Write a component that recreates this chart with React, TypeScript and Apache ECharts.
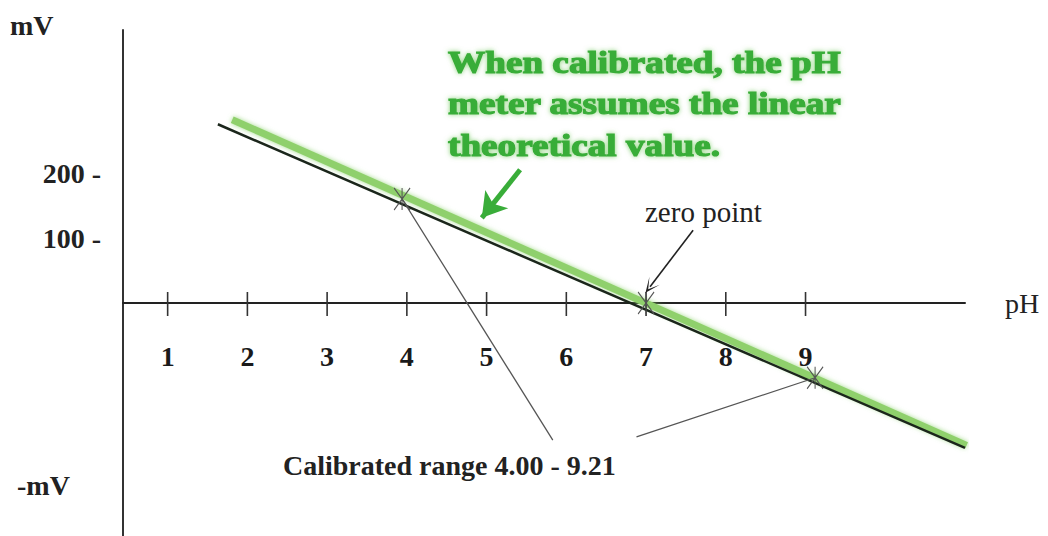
import React, { useEffect, useRef } from "react";
import * as echarts from "echarts";

// ---- data ----
const phTicks = [1, 2, 3, 4, 5, 6, 7, 8, 9];
const mvTicks = [100, 200];
const phRange = [0.44, 11.0];
const mvRange = [-360, 420];
// measured (dark) response line: [pH, mV]
const measuredLine = [
  [1.63, 275],
  [11.0, -223],
];
// theoretical (green) line: [pH, mV]
const theoreticalLine = [
  [1.81, 282],
  [11.02, -219],
];
// calibration points (pH 4, zero point 7, pH 9)
const calibrationPoints = [
  [3.94, 160],
  [7.0, 0],
  [9.12, -115],
];
// leader lines from calibration points to the caption
const leaderEnds = [
  [5.83, -211],
  [6.88, -206],
];
// arrows: [from, to]
const greenArrow = [
  [5.42, 205],
  [4.94, 131],
];
const zeroArrow = [
  [7.59, 112],
  [7.05, 25],
];
const noteLines = [
  "When calibrated, the pH",
  "meter assumes the linear",
  "theoretical value.",
];

const SERIF = "'Liberation Serif', 'Times New Roman', serif";
const GREEN = "#39ad39";

export default function App() {
  const ref = useRef<HTMLDivElement>(null);
  useEffect(() => {
    document.body.style.margin = "0";
    const chart = echarts.init(ref.current!, null, { renderer: "svg" });

    const option: any = {
      animation: false,
      backgroundColor: "#ffffff",
      grid: {
        left: 123,
        top: 30,
        width: 842,
        height: 507,
        containLabel: false,
        outerBoundsMode: "none",
      },
      xAxis: {
        type: "value",
        min: phRange[0],
        max: phRange[1],
        position: "bottom",
        splitLine: { show: false },
        axisLine: { show: true, onZero: true, lineStyle: { color: "#222", width: 2 } },
        axisTick: { show: false },
        axisLabel: { show: false },
        name: "pH",
        nameLocation: "end",
        nameGap: 40,
        nameTextStyle: { fontFamily: SERIF, fontSize: 28, color: "#222" },
      },
      yAxis: {
        type: "value",
        min: mvRange[0],
        max: mvRange[1],
        position: "left",
        splitLine: { show: false },
        axisLine: { show: true, onZero: false, lineStyle: { color: "#333", width: 2 } },
        axisTick: { show: false },
        axisLabel: {
          show: true,
          customValues: mvTicks,
          margin: 22,
          formatter: (v: number) => `${v} -`,
          fontFamily: SERIF,
          fontWeight: "bold",
          fontSize: 28,
          color: "#222",
        },
      },
      series: [
        {
          name: "ticks",
          type: "scatter",
          data: phTicks.map((v) => [v, 0]),
          symbol: "rect",
          symbolSize: [1.6, 24],
          symbolOffset: [0, 1],
          z: 2,
          silent: true,
          itemStyle: { color: "#333", opacity: 1 },
          label: {
            show: true,
            position: "bottom",
            distance: 26,
            formatter: (p: any) => String(p.value[0]),
            fontFamily: SERIF,
            fontWeight: "bold",
            fontSize: 28,
            color: "#1a1a1a",
            opacity: 1,
          },
        },
        {
          name: "theoretical",
          type: "line",
          data: theoreticalLine,
          showSymbol: false,
          symbol: "none",
          z: 1,
          lineStyle: {
            color: "#8fd06c",
            width: 7,
            shadowBlur: 5,
            shadowColor: "rgba(140,210,110,0.8)",
          },
          markLine: {
            silent: true,
            symbol: ["none", "arrow"],
            symbolSize: [22, 24],
            label: { show: false },
            lineStyle: { color: GREEN, width: 5, type: "solid" },
            data: [[{ coord: greenArrow[0] }, { coord: greenArrow[1] }]],
          },
        },
        {
          name: "measured",
          type: "line",
          data: measuredLine,
          showSymbol: false,
          symbol: "none",
          z: 3,
          lineStyle: { color: "#1b261b", width: 2.5 },
          markLine: {
            silent: true,
            symbol: ["none", "path://M5,0 L10,10 L5,3 L0,10 Z"],
            symbolSize: [13, 15],
            label: { show: false },
            lineStyle: { color: "#222", width: 1.6, type: "solid" },
            data: [[{ coord: zeroArrow[0] }, { coord: zeroArrow[1] }]],
          },
        },
        {
          name: "calibration",
          type: "scatter",
          data: calibrationPoints,
          symbol: "path://M0,0L10,14M10,0L0,14M5,0L5,14",
          symbolSize: [16, 22],
          z: 4,
          itemStyle: { color: "none", borderColor: "#555", borderWidth: 1.2, opacity: 1 },
          markLine: {
            silent: true,
            symbol: ["none", "none"],
            label: { show: false },
            lineStyle: { color: "#555", width: 1.3, type: "solid" },
            data: [
              [{ coord: calibrationPoints[0] }, { coord: leaderEnds[0] }],
              [{ coord: calibrationPoints[2] }, { coord: leaderEnds[1] }],
            ],
          },
        },
      ],
      graphic: [
        ...noteLines.map((t, i) => ({
          type: "text",
          x: 448,
          y: 62 + i * 41.5,
          scaleX: 1.2,
          style: {
            text: t,
            fontFamily: SERIF,
            fontWeight: "bold",
            fontSize: 31,
            fill: GREEN,
            stroke: GREEN,
            lineWidth: 1.2,
            textAlign: "left",
            textVerticalAlign: "middle",
            textShadowBlur: 5,
            textShadowColor: "rgba(110,200,90,0.8)",
          },
        })),
        {
          type: "text",
          x: 645,
          y: 212,
          style: {
            text: "zero point",
            fontFamily: SERIF,
            fontSize: 29,
            fill: "#222",
            textAlign: "left",
            textVerticalAlign: "middle",
          },
        },
        {
          type: "text",
          x: 283,
          y: 465,
          style: {
            text: "Calibrated range 4.00 - 9.21",
            fontFamily: SERIF,
            fontWeight: "bold",
            fontSize: 28,
            fill: "#222",
            textAlign: "left",
            textVerticalAlign: "middle",
          },
        },
        {
          type: "text",
          x: 10,
          y: 25,
          style: {
            text: "mV",
            fontFamily: SERIF,
            fontWeight: "bold",
            fontSize: 28,
            fill: "#222",
            textAlign: "left",
            textVerticalAlign: "middle",
          },
        },
        {
          type: "text",
          x: 17,
          y: 485,
          style: {
            text: "-mV",
            fontFamily: SERIF,
            fontWeight: "bold",
            fontSize: 28,
            fill: "#222",
            textAlign: "left",
            textVerticalAlign: "middle",
          },
        },
      ],
    };
    chart.setOption(option);
    return () => chart.dispose();
  }, []);
  return <div ref={ref} style={{ width: 1048, height: 536 }} />;
}
